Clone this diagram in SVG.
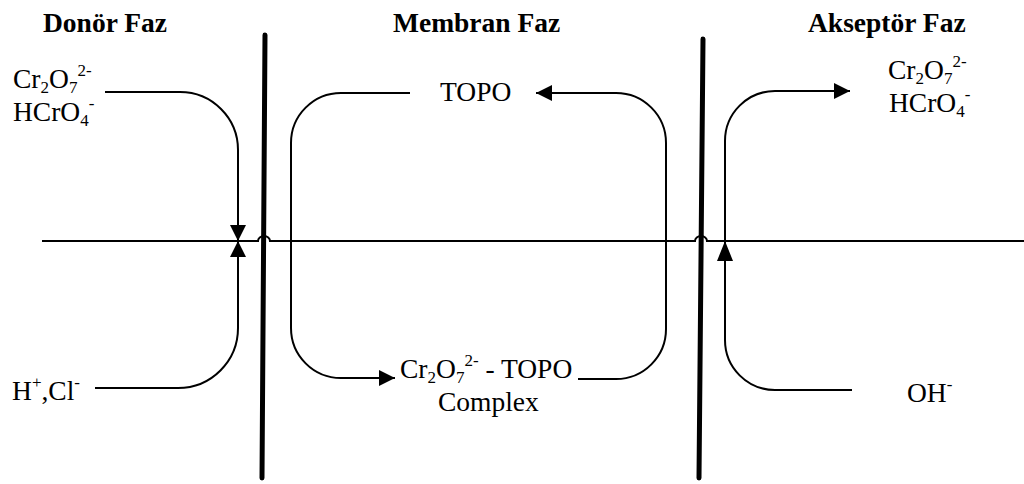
<svg xmlns="http://www.w3.org/2000/svg" width="1024" height="484" viewBox="0 0 1024 484">
<style>
.t{font-family:'Liberation Serif','Times New Roman',serif;font-size:27.5px;fill:#000}
.b{font-weight:bold}
.s{font-size:17px}
.ln{fill:none;stroke:#000;stroke-width:2}
.mem{stroke:#000;stroke-width:5;stroke-linecap:round}
</style>
<defs>
<marker id="ah" markerUnits="userSpaceOnUse" markerWidth="16" markerHeight="16" refX="16" refY="8" orient="auto"><path d="M0,0 L16,8 L0,16 Z" fill="#000"/></marker>
<marker id="ahl" markerUnits="userSpaceOnUse" markerWidth="20" markerHeight="16" refX="20" refY="8" orient="auto"><path d="M0,0 L20,8 L0,16 Z" fill="#000"/></marker>
</defs>
<g id="membranes">
<line class="mem" x1="265" y1="35" x2="262" y2="478"/>
<line class="mem" x1="703" y1="39" x2="699" y2="478"/>
</g>
<g id="connectors">
<path class="ln" d="M42,241 H258 A6,5 0 0 1 270,241 H695 A6,5 0 0 1 707,241 H1024"/>
<path class="ln" d="M105,92 H180 A58,58 0 0 1 238,150 V241" marker-end="url(#ah)"/>
<path class="ln" d="M95,388 H178 A60,60 0 0 0 238,328 V241" marker-end="url(#ah)"/>
<path class="ln" d="M410,93 H341 A50,50 0 0 0 291,143 V328 A50,50 0 0 0 341,378 H395" marker-end="url(#ah)"/>
<path class="ln" d="M578,379 H616 A50,50 0 0 0 666,329 V143 A50,50 0 0 0 616,93 H536" marker-end="url(#ah)"/>
<path class="ln" d="M725,241 V141 A50,50 0 0 1 775,91 H850" marker-end="url(#ah)"/>
<path class="ln" d="M852,390 H775 A50,50 0 0 1 725,340 V241" marker-end="url(#ahl)"/>
</g>
<g id="titles">
<text class="t b" x="43" y="32">Donör Faz</text>
<text class="t b" x="393" y="32">Membran Faz</text>
<text class="t b" x="808" y="32">Akseptör Faz</text>
</g>
<g id="donor-top">
<text class="t" x="13" y="88">Cr<tspan class="s" dy="5">2</tspan><tspan dy="-5">O</tspan><tspan class="s" dy="5">7</tspan><tspan class="s" dy="-17">2-</tspan></text>
<text class="t" x="13" y="121">HCrO<tspan class="s" dy="5">4</tspan><tspan class="s" dy="-17">-</tspan></text>
</g>
<g id="donor-bottom">
<text class="t" x="12" y="400">H<tspan class="s" dy="-12">+</tspan><tspan dy="12">,Cl</tspan><tspan class="s" dy="-12">-</tspan></text>
</g>
<g id="topo">
<text class="t" x="440" y="101">TOPO</text>
</g>
<g id="complex">
<text class="t" x="400" y="378">Cr<tspan class="s" dy="5">2</tspan><tspan dy="-5">O</tspan><tspan class="s" dy="5">7</tspan><tspan class="s" dy="-17">2-</tspan><tspan dy="12"> - TOPO</tspan></text>
<text class="t" x="438" y="411">Complex</text>
</g>
<g id="acceptor-top">
<text class="t" x="888" y="79">Cr<tspan class="s" dy="5">2</tspan><tspan dy="-5">O</tspan><tspan class="s" dy="5">7</tspan><tspan class="s" dy="-17">2-</tspan></text>
<text class="t" x="889" y="112">HCrO<tspan class="s" dy="5">4</tspan><tspan class="s" dy="-17">-</tspan></text>
</g>
<g id="acceptor-bottom">
<text class="t" x="907" y="402">OH<tspan class="s" dy="-12">-</tspan></text>
</g>
</svg>
